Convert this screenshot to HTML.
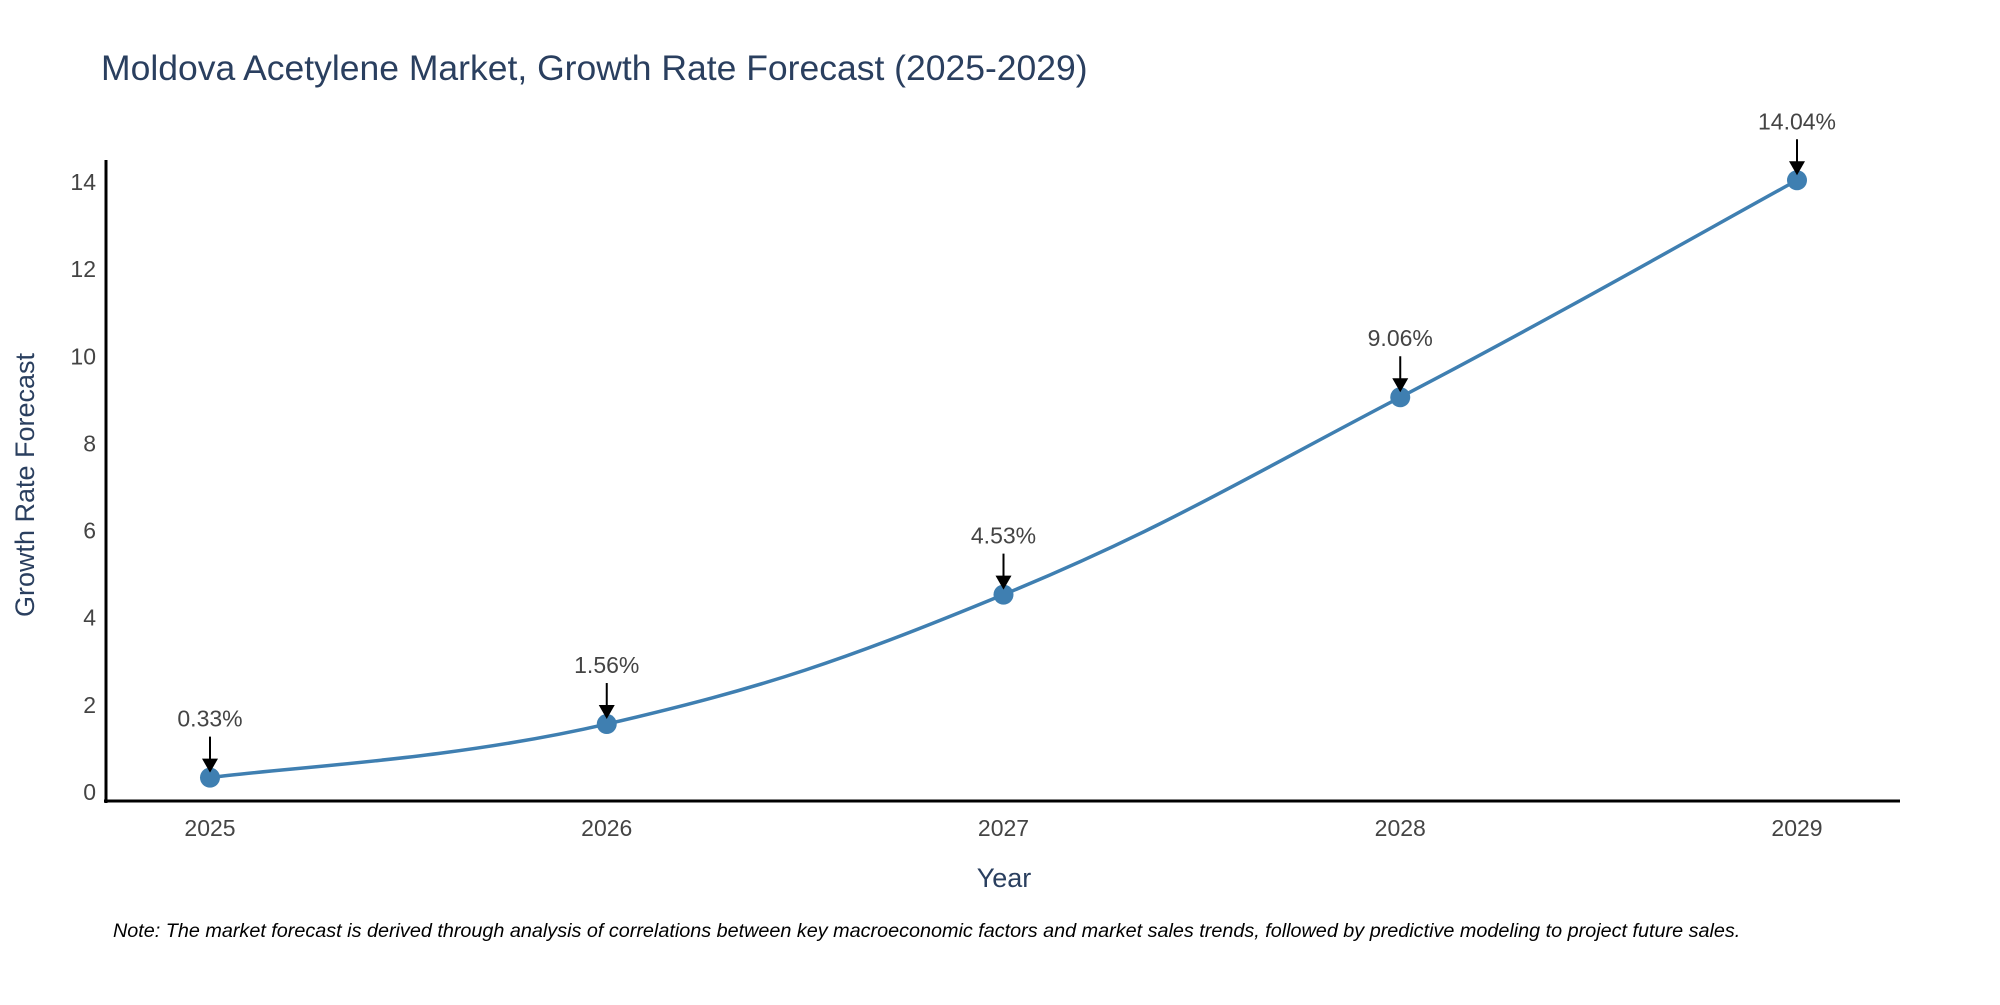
<!DOCTYPE html>
<html><head><meta charset="utf-8"><style>
body{margin:0;background:#fff;}
svg text{font-family:"Liberation Sans",sans-serif;}
</style></head><body>
<svg id="c" width="2000" height="1000" xmlns="http://www.w3.org/2000/svg">
<text x="101" y="80" font-size="35.5" fill="#2a3f5f">Moldova Acetylene Market, Growth Rate Forecast (2025-2029)</text>
<g id="yt"></g><g id="xt"></g>
<line x1="106" y1="160" x2="106" y2="803" stroke="#000" stroke-width="3"/>
<line x1="104" y1="801" x2="1900" y2="801" stroke="#000" stroke-width="3"/>
<text transform="translate(34,485) rotate(-90)" text-anchor="middle" font-size="27" fill="#2a3f5f">Growth Rate Forecast</text>
<text x="1004" y="887" text-anchor="middle" font-size="27" fill="#2a3f5f">Year</text>
<text x="113" y="937" font-size="19.8" font-style="italic" fill="#000">Note: The market forecast is derived through analysis of correlations between key macroeconomic factors and market sales trends, followed by predictive modeling to project future sales.</text>
<path id="ln" fill="none" stroke="#3f7fb1" stroke-width="3.5"/>
<g id="pts"></g>
</svg>
<script>
const years=[2025,2026,2027,2028,2029];
const values=[0.33,1.56,4.53,9.06,14.04];
const labels=["0.33%","1.56%","4.53%","9.06%","14.04%"];
const yTicks=[0,2,4,6,8,10,12,14];
const NS="http://www.w3.org/2000/svg";
const x=i=>210+i*(1797-210)/(years.length-1);
const y=v=>792-v*(792-182)/14;
function mk(t,a,p){const e=document.createElementNS(NS,t);for(const k in a)e.setAttribute(k,a[k]);p.appendChild(e);return e;}
const yt=document.getElementById('yt');
yTicks.forEach(t=>{const e=mk('text',{x:96,y:y(t)+8,'text-anchor':'end','font-size':23,fill:'#444'},yt);


e.textContent=t;});
const xt=document.getElementById('xt');
years.forEach((yr,i)=>{const e=mk('text',{x:x(i),y:836,'text-anchor':'middle','font-size':23,fill:'#444'},xt);


e.textContent=yr;});
const P=values.map((v,i)=>[x(i),y(v)]);
let d=`M${P[0][0]},${P[0][1]}`;
for(let i=0;i<P.length-1;i++){const p0=P[i-1]||P[i],p1=P[i],p2=P[i+1],p3=P[i+2]||P[i+1];
d+=` C${p1[0]+(p2[0]-p0[0])/5},${p1[1]+(p2[1]-p0[1])/5} ${p2[0]-(p3[0]-p1[0])/5},${p2[1]-(p3[1]-p1[1])/5} ${p2[0]},${p2[1]}`;}
document.getElementById('ln').setAttribute('d',d);
const g=document.getElementById('pts');
P.forEach((p,i)=>{
const c=mk('circle',{cx:p[0],cy:p[1],r:10,fill:'#3f7fb1'},g);


const l=mk('line',{x1:p[0],y1:p[1]-41,x2:p[0],y2:p[1]-18,stroke:'#000','stroke-width':2},g);


const a=mk('polygon',{points:`${p[0]-8},${p[1]-19} ${p[0]+8},${p[1]-19} ${p[0]},${p[1]-5}`,fill:'#000'},g);


const t=mk('text',{x:p[0],y:p[1]-51,'text-anchor':'middle','font-size':23,fill:'#444'},g);


t.textContent=labels[i];});
</script>
</body></html>
